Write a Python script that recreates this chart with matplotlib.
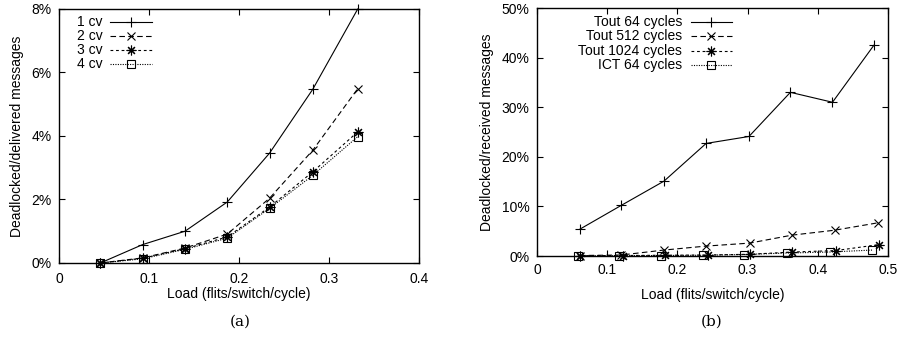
import matplotlib
matplotlib.use("Agg")
import matplotlib.pyplot as plt
from matplotlib.ticker import FuncFormatter

plt.rcParams['font.family'] = ['Liberation Sans', 'DejaVu Sans']

# (a) deadlocked/delivered messages vs load
load_a = [0.046, 0.093, 0.140, 0.187, 0.234, 0.282, 0.332]
cv1 = [0.0, 0.58, 1.00, 1.92, 3.46, 5.47, 8.0]
cv2 = [0.0, 0.16, 0.47, 0.91, 2.04, 3.55, 5.49]
cv3 = [0.0, 0.15, 0.45, 0.82, 1.76, 2.87, 4.13]
cv4 = [0.0, 0.13, 0.43, 0.78, 1.72, 2.76, 3.98]

# (b) deadlocked/received messages vs load
load_t64 = [0.061, 0.120, 0.181, 0.241, 0.302, 0.361, 0.421, 0.480]
tout64 = [5.4, 10.2, 15.1, 22.7, 24.1, 33.0, 31.0, 42.5]
load_t512 = [0.061, 0.120, 0.181, 0.241, 0.303, 0.363, 0.424, 0.486]
tout512 = [0.1, 0.2, 1.2, 2.0, 2.6, 4.2, 5.2, 6.7]
load_t1024 = [0.062, 0.122, 0.182, 0.243, 0.303, 0.364, 0.426, 0.487]
tout1024 = [0.05, 0.1, 0.15, 0.2, 0.35, 0.8, 1.1, 2.3]
load_ict = [0.058, 0.117, 0.176, 0.236, 0.295, 0.356, 0.417, 0.478]
ict64 = [0.05, 0.05, 0.1, 0.15, 0.3, 0.6, 0.8, 1.2]

styles = [
    dict(ls='-', marker='+', ms=7),
    dict(ls=(0, (5, 3)), marker='x', ms=6),
    dict(ls=(0, (2.5, 2.5)), marker=(8, 2, 0), ms=7),
    dict(ls=(0, (1, 1.2)), marker='s', ms=5.5),
]

fig = plt.figure(figsize=(8.99, 3.58), dpi=100)
ax1 = fig.add_axes([0.0656, 0.2654, 0.4004, 0.7095])
ax2 = fig.add_axes([0.5973, 0.2849, 0.3904, 0.6927])

pct = FuncFormatter(lambda v, p: f"{v:.0f}%")


def style_axes(ax, xpad):
    ax.tick_params(direction='in', top=True, right=True, length=4,
                   width=0.8, labelsize=10)
    ax.tick_params(axis='x', pad=xpad)
    ax.tick_params(axis='y', pad=5.5)
    for s in ax.spines.values():
        s.set_linewidth(1.0)
    ax.yaxis.set_major_formatter(pct)
    ax.xaxis.set_major_formatter(FuncFormatter(lambda v, p: "0" if v == 0 else f"{v:g}"))


def legend_rows(ax, labels, x_text, x0, x1, ys, ha):
    for lab, y, st in zip(labels, ys, styles):
        ax.text(x_text, y, lab, transform=ax.transAxes, ha=ha, va='center',
                fontsize=10)
        ax.plot([x0, x1], [y, y], transform=ax.transAxes, color='black',
                lw=0.8, ls=st['ls'], clip_on=False)
        ax.plot([(x0 + x1) / 2], [y], transform=ax.transAxes, color='black',
                ls='none', marker=st['marker'], ms=st['ms'], mfc='none',
                mew=0.8, clip_on=False)


# panel (a)
for ys, st in zip([cv1, cv2, cv3, cv4], styles):
    ax1.plot(load_a, ys, color='black', lw=0.8, ls=st['ls'], marker=st['marker'],
             ms=st['ms'], mfc='none', mew=0.8, clip_on=False)
ax1.set_xlim(0, 0.4)
ax1.set_ylim(0, 8)
ax1.set_xticks([0, 0.1, 0.2, 0.3, 0.4])
ax1.set_yticks([0, 2, 4, 6, 8])
style_axes(ax1, 6.5)
ax1.set_xlabel("Load (flits/switch/cycle)", fontsize=10, labelpad=1)
ax1.set_ylabel("Deadlocked/delivered messages", fontsize=10, labelpad=5)
legend_rows(ax1, ["1 cv", "2 cv", "3 cv", "4 cv"],
            (77 - 59) / 360, (110 - 59) / 360, (152 - 59) / 360,
            [1 - (22 - 9) / 254, 1 - (36 - 9) / 254, 1 - (50 - 9) / 254, 1 - (64 - 9) / 254],
            'left')

# panel (b)
for xs, ys, st in zip([load_t64, load_t512, load_t1024, load_ict],
                      [tout64, tout512, tout1024, ict64], styles):
    ax2.plot(xs, ys, color='black', lw=0.8, ls=st['ls'], marker=st['marker'],
             ms=st['ms'], mfc='none', mew=0.8, clip_on=False)
ax2.set_xlim(0, 0.5)
ax2.set_ylim(0, 50)
ax2.set_xticks([0, 0.1, 0.2, 0.3, 0.4, 0.5])
ax2.set_yticks([0, 10, 20, 30, 40, 50])
style_axes(ax2, 5)
ax2.set_xlabel("Load (flits/switch/cycle)", fontsize=10, labelpad=8)
ax2.set_ylabel("Deadlocked/received messages", fontsize=10, labelpad=5)
legend_rows(ax2, ["Tout 64 cycles", "Tout 512 cycles", "Tout 1024 cycles", "ICT 64 cycles"],
            (682 - 537) / 351, (691 - 537) / 351, (732 - 537) / 351,
            [1 - (22 - 8) / 248, 1 - (36 - 8) / 248, 1 - (51 - 8) / 248, 1 - (65 - 8) / 248],
            'right')

fig.text(240 / 899, 1 - 322 / 358, "(a)", ha='center', va='center', fontsize=11,
         family=['DejaVu Serif'])
fig.text(712 / 899, 1 - 322 / 358, "(b)", ha='center', va='center', fontsize=11,
         family=['DejaVu Serif'])

fig.savefig("out.png", dpi=100)
